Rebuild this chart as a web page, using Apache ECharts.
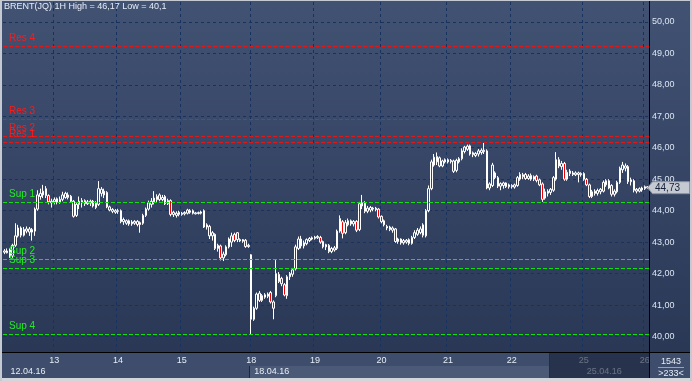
<!DOCTYPE html>
<html><head><meta charset="utf-8">
<script src="https://cdn.jsdelivr.net/npm/echarts@6/dist/echarts.min.js"></script>
<style>html,body{margin:0;padding:0;background:#c8ccd3;}#c{width:692px;height:381px;}</style>
</head><body><div id="c"></div>
<script>
// ---- data ----
const titleText = 'BRENT(JQ) 1H High = 46,17 Low = 40,1';
const dayLabels = ['12','13','14','15','18','19','20','21','22','25','26'];
const dayCounts = [18,23,23,25,23,24,24,23,26,22,2];
const weekLabels = {'12':'12.04.16','18':'18.04.16','25':'25.04.16'};
const opens = [
 42.68,42.66,42.75,42.56,42.90,43.20,43.45,43.22,43.35,43.42,43.32,43.35,44.05,44.45,44.50,44.70,44.48,44.25,
 44.28,44.38,44.26,44.36,44.55,44.42,44.46,44.30,43.85,44.20,44.25,44.32,44.22,44.24,44.30,44.25,44.20,44.55,44.50,44.58,44.12,43.98,43.95,
 43.98,44.00,43.65,43.60,43.68,43.58,43.60,43.66,43.56,43.60,43.85,44.05,44.20,44.28,44.35,44.50,44.35,44.45,44.22,44.32,43.88,43.85,43.95,
 43.88,43.90,43.92,43.95,44.00,43.90,43.91,43.92,44.00,43.48,43.50,43.20,43.25,42.80,42.88,42.50,42.60,42.85,43.00,43.25,43.30,43.04,43.03,43.06,42.86,
 42.60,40.55,40.90,41.38,41.15,41.25,41.28,41.40,41.10,41.30,41.98,41.85,41.65,41.30,41.90,41.98,42.15,42.80,43.10,42.88,42.95,43.05,43.10,
 43.12,43.14,43.15,43.02,42.85,42.90,42.70,42.75,42.80,43.35,43.65,43.30,43.55,43.68,43.58,43.66,43.40,44.15,44.25,43.98,44.02,44.05,44.03,44.05,
 43.82,43.68,43.45,43.40,43.38,43.42,43.02,43.10,42.98,43.00,43.08,42.96,43.15,43.25,43.30,43.55,43.20,44.00,44.70,45.45,45.55,45.68,45.42,45.55,
 45.55,45.56,45.58,45.28,45.55,45.65,45.88,45.95,46.06,45.78,45.75,45.80,45.85,45.88,45.90,44.72,44.80,45.20,45.05,44.78,44.80,44.88,44.76,
 44.76,44.75,44.80,45.00,45.08,45.15,45.02,45.12,45.00,45.10,44.98,44.85,44.40,44.55,44.58,44.65,45.00,45.62,45.40,45.50,45.00,45.18,45.15,45.14,45.15,45.14,
 45.18,45.00,44.82,44.45,44.55,44.55,44.60,44.62,44.82,44.95,44.80,44.52,44.60,44.90,45.30,45.35,45.40,44.92,44.95,44.62,44.62,44.66,
 44.70,44.76
];
const closes = [
 42.72,42.72,42.56,42.90,43.20,43.45,43.22,43.40,43.42,43.32,43.40,44.05,44.50,44.55,44.62,44.48,44.28,44.30,
 44.35,44.26,44.36,44.50,44.42,44.50,44.30,43.82,44.20,44.30,44.32,44.22,44.28,44.30,44.15,44.10,44.70,44.68,44.62,44.12,44.02,44.04,44.00,
 44.00,43.65,43.72,43.68,43.58,43.64,43.66,43.56,43.62,43.85,44.05,44.25,44.30,44.40,44.45,44.35,44.42,44.22,44.32,43.88,43.95,43.92,43.88,
 43.92,43.94,44.02,44.00,43.92,43.93,43.94,43.96,43.48,43.55,43.20,43.30,42.80,42.90,42.50,42.62,42.85,43.10,43.20,43.05,43.08,43.08,43.08,42.86,42.90,
 40.55,40.90,41.35,41.15,41.30,41.33,41.35,41.10,40.90,42.00,41.75,41.68,41.32,41.90,42.00,42.12,42.85,43.10,42.88,42.98,43.08,43.12,43.14,
 43.16,43.18,43.00,42.85,42.92,42.70,42.80,42.82,43.35,43.75,43.28,43.62,43.68,43.58,43.66,43.38,44.22,44.25,43.98,44.08,44.10,44.08,44.08,43.80,
 43.65,43.55,43.50,43.48,43.45,43.02,43.10,42.98,43.05,43.06,42.96,43.15,43.30,43.38,43.42,43.22,44.00,44.70,45.55,45.70,45.72,45.42,45.58,45.62,
 45.62,45.60,45.25,45.60,45.65,45.90,46.02,46.05,45.80,45.84,45.82,45.90,45.92,45.92,44.72,44.85,45.45,45.05,44.78,44.86,44.88,44.76,44.82,
 44.80,44.82,45.05,45.15,45.14,45.02,45.10,45.00,45.08,44.96,44.82,44.36,44.60,44.62,44.68,45.05,45.62,45.42,45.50,45.00,45.22,45.26,45.20,45.20,45.20,45.18,
 45.00,44.82,44.45,44.60,44.62,44.64,44.68,44.90,44.95,44.72,44.52,44.62,44.90,45.35,45.45,45.42,44.92,44.98,44.65,44.68,44.70,44.72,
 44.76,44.73
];
const lows = [
 42.62,42.64,42.50,42.50,42.85,43.15,43.15,43.18,43.28,43.20,43.05,43.20,44.00,44.35,44.40,44.40,44.20,44.10,
 44.20,44.20,44.22,44.30,44.38,44.36,44.25,43.78,43.80,44.05,44.10,44.15,44.18,44.15,44.10,44.05,44.15,44.45,44.40,44.08,43.98,43.92,43.90,
 43.90,43.60,43.55,43.55,43.52,43.52,43.55,43.50,43.30,43.55,43.80,44.00,44.10,44.20,44.25,44.30,44.30,44.18,44.18,43.82,43.80,43.78,43.82,
 43.84,43.85,43.88,43.90,43.88,43.88,43.88,43.88,43.45,43.40,43.10,43.05,42.75,42.70,42.42,42.40,42.55,42.80,42.85,43.00,43.00,43.00,42.98,42.82,42.82,
 40.08,40.50,40.85,41.10,41.10,41.20,41.22,41.05,40.55,41.25,41.70,41.60,41.28,41.20,41.80,41.90,42.10,42.75,42.80,42.80,42.90,43.00,43.06,
 43.08,43.10,42.95,42.80,42.75,42.65,42.65,42.70,42.75,43.30,43.12,43.25,43.50,43.52,43.50,43.32,43.35,44.05,43.92,43.92,43.95,43.98,43.98,43.75,
 43.60,43.50,43.38,43.35,43.30,42.98,42.95,42.92,42.92,42.95,42.90,42.92,43.10,43.20,43.25,43.15,43.15,43.95,44.65,45.40,45.45,45.38,45.38,45.50,
 45.50,45.50,45.20,45.22,45.50,45.60,45.82,45.90,45.75,45.70,45.70,45.72,45.78,45.80,44.68,44.65,44.75,45.00,44.72,44.65,44.70,44.72,44.70,
 44.70,44.70,44.76,44.95,45.00,44.98,44.98,44.95,44.94,44.90,44.78,44.28,44.35,44.45,44.50,44.60,44.95,45.35,45.30,44.95,44.95,45.10,45.10,45.10,44.90,45.08,
 44.95,44.78,44.40,44.40,44.48,44.48,44.52,44.58,44.76,44.68,44.45,44.45,44.55,44.85,45.20,45.25,44.85,44.80,44.58,44.55,44.58,44.60,
 44.66,44.70
];
const highs = [
 42.78,42.80,42.80,42.95,43.60,43.55,43.50,43.48,43.50,43.48,43.45,44.10,44.65,44.70,44.82,44.78,44.52,44.38,
 44.42,44.42,44.45,44.60,44.60,44.58,44.50,44.34,44.25,44.45,44.40,44.36,44.34,44.35,44.34,44.30,44.94,44.75,44.70,44.62,44.16,44.08,44.05,
 44.06,44.04,43.78,43.72,43.72,43.70,43.70,43.70,43.66,43.90,44.10,44.32,44.40,44.62,44.52,44.55,44.50,44.50,44.38,44.36,44.00,43.98,44.00,
 43.96,43.98,44.06,44.05,44.04,43.96,43.97,44.00,44.04,43.60,43.55,43.35,43.28,42.95,42.92,42.70,42.90,43.15,43.30,43.30,43.32,43.12,43.10,43.10,42.95,
 42.62,40.95,41.40,41.45,41.35,41.38,41.40,41.45,41.15,42.43,42.05,41.90,41.70,41.95,42.05,42.18,42.92,43.18,43.20,43.05,43.12,43.16,43.18,
 43.20,43.22,43.20,43.05,42.95,42.94,42.85,42.88,43.40,43.85,43.70,43.70,43.75,43.72,43.70,43.70,44.28,44.50,44.30,44.15,44.15,44.12,44.12,44.08,
 43.85,43.72,43.55,43.52,43.50,43.45,43.14,43.12,43.10,43.10,43.12,43.20,43.38,43.45,43.50,43.60,44.05,44.80,45.62,45.80,45.85,45.72,45.62,45.66,
 45.66,45.64,45.62,45.65,45.70,45.98,46.06,46.10,46.10,45.88,45.86,45.96,45.98,46.17,45.95,44.90,45.52,45.25,45.10,44.90,44.92,44.90,44.86,
 44.84,44.86,45.10,45.22,45.20,45.20,45.16,45.18,45.12,45.14,45.02,44.90,44.70,44.68,44.72,45.10,45.86,45.70,45.58,45.55,45.30,45.32,45.26,45.25,45.24,45.22,
 45.22,45.04,44.86,44.66,44.68,44.70,44.72,44.96,45.00,45.00,44.84,44.68,44.95,45.40,45.55,45.50,45.45,45.05,45.00,44.72,44.74,44.76,
 44.80,44.78
];
const resNames = ['Res 4','Res 3','Res 2','Res 1'];
const resLevels = [49.23, 46.90, 46.36, 46.18];
const supNames = ['Sup 1','Sup 2','Sup 3','Sup 4'];
const supLevels = [44.27, 42.46, 42.17, 40.08];
const yTicks = [40,41,42,43,44,45,46,47,48,49,50];
const yMin = 39.51, yMax = 50.63;
const barCountText = ['1543', '>233<'];

// ---- build ----
const categories = [];
const dayStartIdx = [];
dayLabels.forEach((d, k) => {
  dayStartIdx.push(categories.length);
  for (let j = 0; j < dayCounts[k]; j++) categories.push(d + '.04 ' + j + 'h');
});
const labelAt = {};
dayStartIdx.forEach((idx, k) => { if (k > 0) labelAt[idx] = dayLabels[k]; });
const weekAt = {};
dayStartIdx.forEach((idx, k) => { if (weekLabels[dayLabels[k]]) weekAt[idx] = weekLabels[dayLabels[k]]; });
const ohlc = opens.map((o, i) => [o, closes[i], lows[i], highs[i]]);
const lastIdx = ohlc.length - 1;
const lastPrice = closes[lastIdx];
const fmt = v => v.toFixed(2).replace('.', ',');
const FONT = 'Liberation Sans';

const chart = echarts.init(document.getElementById('c'));
chart.setOption({
  animation: false,
  backgroundColor: {
    type: 'linear', x: 0, y: 0, x2: 0, y2: 1,
    colorStops: [{offset: 0, color: '#425273'}, {offset: 0.92, color: '#2a3856'}, {offset: 1, color: '#2a3856'}]
  },
  textStyle: {fontFamily: FONT},
  title: {
    text: titleText, left: 4, top: 2, padding: 0,
    textStyle: {color: '#e6edf7', fontSize: 9, fontWeight: 'normal', fontFamily: FONT}
  },
  grid: {left: 3, right: 43, top: 2, bottom: 29, containLabel: false},
  xAxis: [{
    type: 'category', data: categories, boundaryGap: true,
    axisLine: {show: true, lineStyle: {color: '#000000'}},
    axisTick: {show: false},
    axisLabel: {
      interval: (i) => labelAt[i] !== undefined,
      formatter: (v, i) => labelAt[i] || '',
      color: '#e6edf7', fontSize: 9, margin: 4, fontFamily: FONT
    },
    splitLine: {
      show: true,
      interval: (i) => labelAt[i] !== undefined,
      lineStyle: {color: '#183260', type: [3, 3], width: 1}
    }
  }, {
    type: 'category', data: categories, boundaryGap: true, position: 'bottom', offset: 0,
    axisLine: {show: false}, axisTick: {show: false}, splitLine: {show: false},
    axisLabel: {
      interval: (i) => weekAt[i] !== undefined,
      formatter: (v, i) => weekAt[i] ? (i === 0 ? '{f|' + weekAt[i] + '}' : '{w|' + weekAt[i] + '}') : '',
      align: 'left', margin: 15, color: '#e6edf7', fontSize: 9,
      rich: {
        f: {padding: [0, 0, 0, 6], color: '#e6edf7', fontSize: 9, fontFamily: FONT},
        w: {padding: [0, 0, 0, 3], color: '#e6edf7', fontSize: 9, fontFamily: FONT}
      }
    }
  }],
  yAxis: {
    type: 'value', position: 'right', min: yMin, max: yMax, scale: true,
    axisLine: {show: true, lineStyle: {color: '#000000'}},
    axisTick: {show: false, customValues: yTicks},
    axisLabel: {customValues: yTicks, formatter: fmt, color: '#dbe5f3', fontSize: 9, margin: 3, fontFamily: FONT},
    splitLine: {show: true, lineStyle: {color: '#183260', type: [3, 3], width: 1}}
  },
  series: [{
    type: 'candlestick',
    data: ohlc,
    barWidth: 2,
    itemStyle: {
      color: 'rgba(0,0,0,0)', color0: '#f00000',
      borderColor: '#ffffff', borderColor0: '#ffffff', borderColorDoji: '#ffffff',
      borderWidth: 1
    }
  }]
});

// levels and last-price tag placed through the y axis scale
const levelGraphics = [];
function addLevel(name, value, lineColor, textColor) {
  const y = Math.round(chart.convertToPixel({yAxisIndex: 0}, value)) + 0.5;
  levelGraphics.push({type: 'line', z: 50, silent: true, shape: {x1: 3, y1: y, x2: 649, y2: y},
    style: {stroke: lineColor, lineWidth: 1, lineDash: [4, 2]}});
  levelGraphics.push({type: 'text', z: 51, silent: true, x: 9, y: y - 3,
    style: {text: name, align: 'left', verticalAlign: 'bottom', fill: textColor, font: '10px "Liberation Sans"'}});
}
resLevels.forEach((v, k) => addLevel(resNames[k], v, '#e01818', '#ff1a1a'));
supLevels.forEach((v, k) => addLevel(supNames[k], v, '#10e010', '#20ee20'));

const tagY = chart.convertToPixel({yAxisIndex: 0}, lastPrice);
chart.setOption({
  graphic: levelGraphics.concat([
    {type: 'rect', z: -1, silent: true, shape: {x: 0, y: 352, width: 692, height: 26}, style: {fill: '#3e4d6b'}},
    {type: 'rect', z: -1, silent: true, shape: {x: 250, y: 366, width: 300, height: 12}, style: {fill: '#4b5a77'}},
    {type: 'line', z: -1, silent: true, shape: {x1: 249.5, y1: 366, x2: 249.5, y2: 378}, style: {stroke: '#1e2740', lineWidth: 1}},
    {type: 'rect', z: 100, silent: true, shape: {x: 549, y: 353, width: 100, height: 25}, style: {fill: 'rgba(26,36,58,0.62)'}},
    {type: 'line', z: 100, silent: true, shape: {x1: 549.5, y1: 353, x2: 549.5, y2: 378}, style: {stroke: '#222c42', lineWidth: 1}},
    {type: 'rect', z: 100, silent: true, shape: {x: 650, y: 353, width: 42, height: 25}, style: {fill: '#3e4d6b'}},
    {type: 'text', z: 101, silent: true, x: 671, y: 362, style: {text: barCountText[0], align: 'center', verticalAlign: 'middle', fill: '#e6edf7', font: '9px "Liberation Sans"'}},
    {type: 'line', z: 101, silent: true, shape: {x1: 658, y1: 367.5, x2: 684, y2: 367.5}, style: {stroke: '#9aa3b3', lineWidth: 1}},
    {type: 'text', z: 101, silent: true, x: 671, y: 374, style: {text: barCountText[1], align: 'center', verticalAlign: 'middle', fill: '#e6edf7', font: '9px "Liberation Sans"'}},
    {type: 'line', z: 100, silent: true, shape: {x1: 0, y1: 352.5, x2: 692, y2: 352.5}, style: {stroke: '#000000', lineWidth: 1}},
    {type: 'line', z: 100, silent: true, shape: {x1: 649.5, y1: 0, x2: 649.5, y2: 378}, style: {stroke: '#000000', lineWidth: 1}},
    {type: 'polygon', z: 102, silent: true,
      shape: {points: [[647.5, tagY], [652.5, tagY - 6], [689.5, tagY - 6], [689.5, tagY + 6], [652.5, tagY + 6]]},
      style: {fill: '#c4c9d2', stroke: '#8a919d', lineWidth: 1}},
    {type: 'text', z: 103, silent: true, x: 655, y: tagY + 0.5,
      style: {text: fmt(lastPrice), align: 'left', verticalAlign: 'middle', fill: '#16203a', font: '10px "Liberation Sans"'}},
    {type: 'rect', z: 100, silent: true, shape: {x: 0, y: 378, width: 692, height: 3}, style: {fill: '#d2d5da'}},
    {type: 'rect', z: 100, silent: true, shape: {x: 0, y: 0, width: 2, height: 381}, style: {fill: '#c5cad2'}},
    {type: 'rect', z: 100, silent: true, shape: {x: 690, y: 0, width: 2, height: 381}, style: {fill: '#c5cad2'}},
    {type: 'rect', z: 100, silent: true, shape: {x: 0, y: 0, width: 692, height: 1}, style: {fill: '#c5cad2'}}
  ])
});
</script>
</body></html>
